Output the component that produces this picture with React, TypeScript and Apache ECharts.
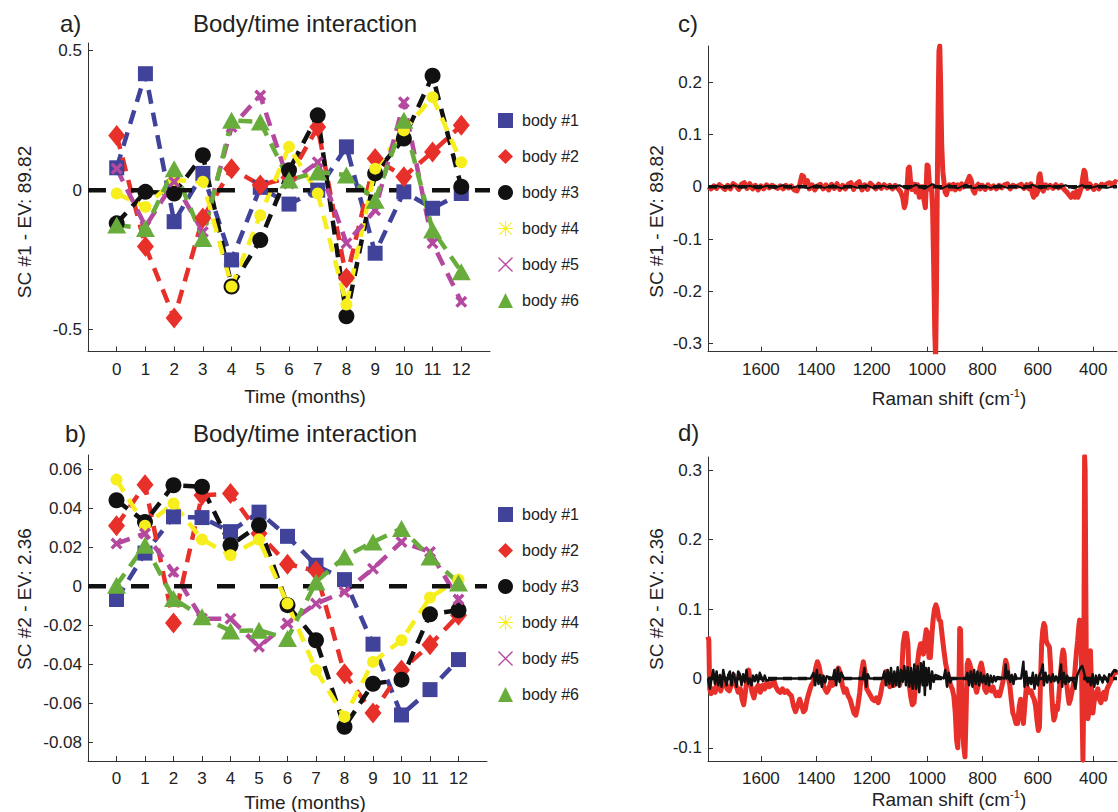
import React, { useEffect, useRef } from "react";
import * as echarts from "echarts";

const FONT = '"Liberation Sans", Arial, Helvetica, sans-serif';

// ---- Panels a & b: body/time interaction ----
const months = [0, 1, 2, 3, 4, 5, 6, 7, 8, 9, 10, 11, 12];
const bodyNames = ["body #1", "body #2", "body #3", "body #4", "body #5", "body #6"];

const aBody1 = [0.08, 0.417, -0.113, 0.06, -0.25, 0.01, -0.05, 0.0, 0.155, -0.226, -0.006, -0.065, -0.012];
const aBody2 = [0.196, -0.202, -0.458, -0.1, 0.077, 0.018, 0.045, 0.226, -0.315, 0.113, 0.048, 0.137, 0.232];
const aBody3 = [-0.119, -0.006, -0.012, 0.125, -0.345, -0.179, 0.071, 0.268, -0.452, 0.06, 0.185, 0.41, 0.012];
const aBody4 = [-0.012, -0.06, 0.036, 0.03, -0.345, -0.09, 0.155, -0.012, -0.41, 0.077, 0.214, 0.333, 0.1];
const aBody5 = [0.077, -0.13, 0.03, -0.15, 0.226, 0.339, 0.024, 0.1, -0.19, -0.072, 0.315, -0.19, -0.4];
const aBody6 = [-0.125, -0.137, 0.077, -0.173, 0.25, 0.244, 0.036, 0.065, 0.054, -0.036, 0.25, -0.143, -0.292];

const bBody1 = [-0.0068, 0.017, 0.0356, 0.0352, 0.028, 0.038, 0.0256, 0.0108, 0.0034, -0.0297, -0.066, -0.053, -0.0376];
const bBody2 = [0.031, 0.052, -0.0188, 0.0467, 0.0475, 0.027, 0.0113, 0.0079, -0.0448, -0.065, -0.043, -0.03, -0.0149];
const bBody3 = [0.0441, 0.033, 0.0518, 0.051, 0.021, 0.0313, -0.0097, -0.0277, -0.0721, -0.05, -0.0479, -0.0144, -0.0123];
const bBody4 = [0.0547, 0.031, 0.0424, 0.024, 0.0159, 0.024, -0.0089, -0.043, -0.067, -0.0388, -0.0277, -0.0058, 0.0034];
const bBody5 = [0.0219, 0.027, 0.0073, -0.0166, -0.0166, -0.031, -0.019, -0.0089, -0.0029, 0.009, 0.0227, 0.0176, -0.0068];
const bBody6 = [0.0005, 0.021, -0.0063, -0.0157, -0.0229, -0.0226, -0.0268, 0.0022, 0.015, 0.0227, 0.0296, 0.015, 0.0017];

const aTicksY = [-0.5, 0, 0.5];
const bTicksY = [-0.08, -0.06, -0.04, -0.02, 0, 0.02, 0.04, 0.06];

// ---- Panels c & d: spectra ----
const ramanTicks = [400, 600, 800, 1000, 1200, 1400, 1600];
const cTicksY = [-0.3, -0.2, -0.1, 0, 0.1, 0.2];
const dTicksY = [-0.1, 0, 0.1, 0.2, 0.3];

const cRed: number[][] = [
  [1790, 0.0], [1780, -0.004], [1770, 0.002], [1760, -0.003], [1750, 0.004], [1740, 0.0], [1730, -0.005],
  [1720, 0.003], [1710, -0.004], [1700, 0.006], [1690, 0.002], [1680, -0.005], [1670, 0.005], [1660, 0.008],
  [1650, -0.003], [1640, 0.006], [1630, -0.004], [1620, 0.003], [1610, -0.006], [1600, 0.002], [1590, -0.004],
  [1580, 0.004], [1570, -0.002], [1560, 0.003], [1550, 0.0], [1540, -0.003], [1530, 0.002], [1520, -0.004],
  [1510, 0.003], [1500, -0.002], [1490, 0.002], [1480, -0.006], [1470, -0.008], [1460, 0.004], [1452, 0.022],
  [1446, 0.02], [1440, 0.006], [1432, 0.012], [1425, -0.004], [1415, 0.004], [1405, -0.006], [1395, 0.002],
  [1385, 0.005], [1375, -0.004], [1365, 0.004], [1355, -0.006], [1345, 0.005], [1335, -0.003], [1325, 0.006],
  [1315, -0.005], [1305, 0.003], [1295, -0.004], [1285, 0.005], [1275, 0.008], [1265, -0.005], [1255, 0.006],
  [1245, 0.01], [1235, -0.006], [1225, 0.004], [1215, -0.005], [1205, 0.007], [1195, 0.002], [1185, -0.004],
  [1175, 0.005], [1165, -0.003], [1155, 0.004], [1145, -0.002], [1135, 0.003], [1125, -0.004], [1115, 0.003],
  [1105, -0.003], [1095, -0.01], [1088, -0.02], [1082, -0.04], [1077, -0.03], [1072, 0.0], [1068, 0.035],
  [1064, 0.038], [1060, 0.015], [1055, -0.005], [1050, 0.0], [1045, 0.005], [1040, -0.01], [1034, 0.004],
  [1028, -0.02], [1022, 0.0], [1016, 0.0], [1011, -0.025], [1006, -0.04], [1003, 0.0], [1000, 0.042],
  [996, 0.04], [992, 0.01], [988, -0.005], [984, 0.0], [980, -0.04], [976, -0.15], [972, -0.28], [969, -0.33],
  [966, -0.2], [963, 0.0], [960, 0.15], [957, 0.26], [954, 0.27], [951, 0.2], [947, 0.08], [943, 0.03],
  [939, 0.01], [935, -0.01], [930, -0.015], [925, -0.005], [920, 0.004], [912, -0.004], [905, 0.005],
  [898, -0.006], [890, 0.004], [882, -0.004], [875, 0.006], [868, 0.0], [860, 0.004], [853, 0.012], [847, 0.02],
  [840, 0.012], [834, -0.006], [828, -0.012], [822, 0.0], [815, 0.005], [808, -0.004], [800, 0.003],
  [790, -0.005], [780, 0.004], [770, -0.003], [760, 0.002], [750, -0.004], [740, 0.003], [730, -0.002],
  [720, 0.004], [710, 0.006], [700, -0.004], [690, 0.003], [680, 0.0], [670, 0.002], [660, 0.005], [650, -0.003],
  [640, 0.004], [632, -0.004], [625, 0.006], [620, -0.012], [615, -0.02], [610, 0.0], [605, -0.015],
  [600, -0.008], [596, 0.02], [592, 0.025], [588, 0.01], [584, -0.005], [580, -0.008], [572, 0.004],
  [564, -0.002], [555, 0.003], [545, -0.003], [535, 0.004], [525, -0.002], [515, 0.003], [505, -0.005],
  [495, -0.01], [488, -0.015], [480, -0.02], [472, -0.012], [466, -0.02], [460, -0.008], [455, -0.02],
  [448, -0.01], [442, 0.0], [437, 0.02], [433, 0.032], [429, 0.028], [425, 0.01], [420, -0.003], [413, 0.006],
  [405, 0.0], [398, -0.005], [390, 0.003], [380, -0.004], [370, 0.005], [360, 0.002], [350, 0.006],
  [340, 0.008], [330, 0.004], [320, 0.01], [314, 0.008],
];

const cBlack: number[][] = [
  [1791, 0], [1760, 0.002], [1730, -0.002], [1700, 0.003], [1670, -0.002], [1640, 0.002], [1610, -0.003],
  [1580, 0.002], [1550, -0.002], [1520, 0.003], [1490, -0.002], [1460, 0.002], [1430, -0.003], [1400, 0.003],
  [1370, -0.002], [1340, 0.003], [1310, -0.003], [1280, 0.002], [1250, -0.002], [1220, 0.003], [1190, -0.003],
  [1160, 0.002], [1130, -0.002], [1100, 0.003], [1070, -0.004], [1040, 0.004], [1010, -0.004], [980, 0.005],
  [950, -0.004], [920, 0.003], [890, -0.003], [860, 0.004], [830, -0.003], [800, 0.002], [770, -0.002],
  [740, 0.003], [710, -0.002], [680, 0.002], [650, -0.003], [620, 0.004], [590, -0.003], [560, 0.002],
  [530, -0.002], [500, 0.003], [470, -0.003], [440, 0.003], [410, -0.002], [380, 0.002], [350, -0.002],
  [314, 0.002],
];

const dRed: number[][] = [
  [1791, 0.06], [1788, 0.055], [1785, -0.015], [1780, -0.022], [1772, -0.015], [1765, -0.02], [1758, -0.005],
  [1752, -0.012], [1745, -0.018], [1738, -0.008], [1730, -0.002], [1722, -0.015], [1714, -0.018],
  [1706, -0.008], [1698, 0.005], [1690, -0.01], [1682, -0.02], [1674, -0.015], [1668, -0.03], [1662, -0.038],
  [1656, -0.02], [1650, 0.0], [1644, 0.012], [1638, -0.005], [1632, -0.02], [1625, -0.028], [1618, -0.015],
  [1610, -0.01], [1602, -0.02], [1594, -0.01], [1586, -0.015], [1578, -0.005], [1570, -0.012], [1562, -0.01],
  [1554, -0.002], [1546, -0.012], [1538, -0.018], [1530, -0.02], [1522, -0.015], [1514, -0.02],
  [1506, -0.018], [1498, -0.022], [1490, -0.025], [1482, -0.04], [1475, -0.048], [1468, -0.04], [1460, -0.03],
  [1452, -0.04], [1446, -0.048], [1440, -0.045], [1433, -0.03], [1426, -0.02], [1418, -0.01], [1410, -0.005],
  [1402, 0.015], [1396, 0.024], [1390, 0.018], [1383, 0.002], [1376, -0.008], [1369, -0.015], [1362, -0.02],
  [1355, -0.015], [1348, -0.005], [1341, -0.01], [1334, 0.0], [1327, 0.01], [1320, 0.015], [1313, 0.008],
  [1306, -0.01], [1299, -0.02], [1292, -0.015], [1285, -0.025], [1278, -0.03], [1271, -0.04], [1264, -0.05],
  [1257, -0.053], [1250, -0.04], [1243, -0.02], [1236, 0.01], [1230, 0.024], [1224, 0.01], [1218, -0.015],
  [1211, -0.02], [1204, -0.025], [1197, -0.03], [1190, -0.032], [1183, -0.028], [1176, -0.035],
  [1169, -0.025], [1162, -0.01], [1155, 0.0], [1148, 0.01], [1141, -0.005], [1134, -0.012], [1127, -0.008],
  [1120, -0.01], [1113, -0.005], [1106, 0.0], [1099, -0.01], [1092, 0.005], [1086, 0.05], [1080, 0.065],
  [1074, 0.065], [1069, 0.05], [1064, -0.01], [1059, -0.026], [1053, -0.038], [1047, -0.035], [1041, -0.01],
  [1035, 0.02], [1029, 0.04], [1023, 0.05], [1018, 0.05], [1013, 0.035], [1008, 0.055], [1003, 0.07],
  [998, 0.065], [993, 0.03], [988, 0.03], [983, 0.06], [978, 0.085], [973, 0.1], [968, 0.106], [963, 0.1],
  [957, 0.085], [951, 0.082], [945, 0.06], [939, 0.04], [933, 0.022], [927, 0.01], [921, 0.0], [915, -0.01],
  [909, -0.015], [903, -0.026], [898, -0.05], [893, -0.09], [889, -0.1], [885, -0.02], [882, 0.072],
  [879, 0.07], [876, 0.0], [872, -0.075], [867, -0.1], [863, -0.113], [859, -0.05], [855, 0.02], [851, 0.026],
  [845, 0.02], [839, 0.01], [833, -0.002], [827, -0.01], [821, -0.02], [815, -0.01], [809, 0.015], [804, 0.022],
  [798, 0.01], [792, -0.015], [786, -0.02], [780, -0.01], [774, -0.015], [768, -0.018], [762, -0.012],
  [756, -0.02], [750, -0.025], [744, -0.02], [738, -0.025], [732, -0.015], [726, -0.005], [720, 0.015],
  [716, 0.026], [711, 0.018], [706, 0.0], [701, -0.01], [696, -0.03], [690, -0.05], [685, -0.055],
  [679, -0.065], [673, -0.065], [667, -0.04], [662, -0.03], [657, -0.05], [652, -0.065], [647, -0.04],
  [641, -0.01], [636, -0.015], [630, -0.02], [624, -0.018], [619, -0.025], [613, -0.03], [608, -0.04],
  [603, -0.06], [598, -0.075], [594, -0.07], [590, 0.0], [586, 0.05], [582, 0.07], [578, 0.079], [574, 0.075],
  [570, 0.055], [566, 0.05], [562, 0.048], [558, 0.045], [554, 0.02], [550, -0.02], [546, -0.045],
  [542, -0.06], [538, -0.055], [533, -0.04], [529, -0.045], [525, -0.03], [521, -0.01], [517, 0.01],
  [513, 0.03], [509, 0.041], [505, 0.035], [500, 0.0], [495, -0.01], [491, -0.025], [487, -0.036],
  [482, -0.03], [477, -0.02], [472, -0.01], [468, 0.0], [464, 0.02], [460, 0.04], [456, 0.055], [452, 0.075],
  [449, 0.084], [446, 0.08], [443, 0.05], [440, -0.05], [437, -0.118], [435, -0.05], [433, 0.1], [431, 0.32],
  [429, 0.3], [427, 0.15], [425, 0.03], [422, -0.03], [419, -0.058], [416, -0.05], [413, 0.0], [410, 0.04],
  [407, 0.0], [404, -0.03], [401, -0.05], [397, -0.035], [393, -0.025], [388, -0.02], [383, -0.015],
  [378, -0.03], [372, -0.035], [367, -0.025], [362, -0.02], [356, -0.03], [350, -0.015], [344, -0.01],
  [338, -0.005], [332, 0.0], [326, 0.008], [320, 0.01], [314, 0.005],
];

const dBlack: number[][] = [
  [1791, 0.0], [1784, -0.015], [1778, 0.0], [1772, 0.012], [1766, -0.008], [1760, 0.01], [1754, -0.01],
  [1748, 0.005], [1742, -0.012], [1736, 0.012], [1730, 0.0], [1724, -0.01], [1718, 0.005], [1712, 0.01],
  [1706, -0.01], [1700, 0.008], [1694, 0.0], [1688, -0.012], [1682, 0.01], [1676, 0.006], [1670, -0.01],
  [1664, 0.006], [1658, -0.005], [1652, 0.012], [1646, -0.008], [1640, 0.0], [1634, -0.01], [1628, 0.004],
  [1622, -0.004], [1616, 0.005], [1610, -0.005], [1604, 0.008], [1598, 0.002], [1592, -0.004], [1586, 0.004],
  [1580, -0.003], [1540, 0.0], [1420, 0.0], [1410, 0.008], [1404, -0.01], [1398, 0.012], [1392, -0.008],
  [1386, 0.005], [1380, -0.012], [1374, 0.004], [1368, -0.006], [1362, 0.003], [1340, 0.0], [1334, 0.012],
  [1328, -0.01], [1322, 0.015], [1316, -0.005], [1310, 0.008], [1300, 0.0], [1232, 0.0], [1226, 0.015],
  [1220, -0.012], [1214, 0.006], [1208, 0.0], [1160, 0.0], [1154, 0.01], [1148, -0.01], [1142, 0.012],
  [1136, -0.008], [1130, 0.015], [1124, -0.012], [1118, 0.01], [1112, -0.01], [1106, 0.016], [1100, -0.012],
  [1094, 0.012], [1088, -0.005], [1082, 0.018], [1076, -0.01], [1070, 0.016], [1064, -0.012], [1058, 0.015],
  [1052, -0.015], [1046, 0.02], [1040, -0.015], [1034, 0.018], [1028, -0.02], [1022, 0.022], [1016, -0.01],
  [1012, 0.024], [1008, -0.024], [1004, 0.015], [1000, -0.01], [994, 0.015], [988, -0.015], [982, 0.01],
  [976, -0.005], [970, 0.005], [940, 0.0], [934, 0.012], [928, -0.012], [922, 0.008], [916, -0.006], [910, 0.0],
  [860, 0.0], [854, 0.008], [848, -0.01], [842, 0.01], [836, -0.012], [830, 0.012], [824, -0.008], [818, 0.01],
  [812, -0.01], [806, 0.008], [800, -0.006], [794, 0.004], [788, -0.008], [782, 0.006], [776, -0.01],
  [770, 0.004], [764, -0.006], [758, 0.003], [752, -0.004], [746, 0.002], [720, 0.0], [716, 0.02], [712, 0.0],
  [706, 0.01], [700, -0.005], [694, 0.005], [688, -0.008], [682, 0.006], [676, 0.0], [660, 0.0], [652, 0.024],
  [648, -0.012], [642, 0.01], [636, -0.01], [630, 0.0], [624, -0.008], [618, 0.008], [612, -0.015],
  [606, 0.005], [600, -0.01], [594, 0.005], [588, 0.01], [582, 0.02], [578, -0.01], [572, 0.008],
  [566, -0.006], [560, 0.004], [552, -0.005], [546, 0.006], [540, -0.004], [534, 0.003], [526, -0.006],
  [520, 0.01], [516, 0.02], [512, -0.012], [506, 0.008], [500, -0.008], [494, 0.004], [488, -0.005],
  [480, 0.0], [470, -0.005], [464, -0.015], [458, 0.004], [452, 0.01], [446, 0.015], [440, 0.018],
  [434, 0.01], [428, 0.0], [420, -0.005], [414, 0.0], [408, -0.01], [402, 0.006], [396, -0.012], [390, 0.004],
  [384, -0.008], [378, 0.005], [372, 0.0], [366, -0.006], [360, 0.004], [354, 0.0], [348, -0.005],
  [342, 0.006], [336, 0.004], [330, 0.008], [324, 0.012], [318, 0.01], [314, 0.012],
];

// ---- styling ----
const COLORS = ["#41439a", "#e8302a", "#111111", "#f7ee1e", "#b5489f", "#68ad3c"];
const ASTERISK =
  "path://M0,9.2L20,9.2L20,10.8L0,10.8Z M9.2,0L10.8,0L10.8,20L9.2,20Z M2.4,1.3L18.7,17.6L17.6,18.7L1.3,2.4Z M17.6,1.3L18.7,2.4L2.4,18.7L1.3,17.6Z";
const CROSS = "path://M1.3,2.4L2.4,1.3L18.7,17.6L17.6,18.7Z M17.6,1.3L18.7,2.4L2.4,18.7L1.3,17.6Z";
const THICK_X = "path://M0,2L2,0L5,3L8,0L10,2L7,5L10,8L8,10L5,7L2,10L0,8L3,5Z";
const SYMBOLS: any[] = ["rect", "diamond", "circle", "circle", THICK_X, "triangle"];
const SIZES: any[] = [15, [17, 21], 16, 12, 12, [19, 17]];
const LEGEND_ICONS = ["rect", "diamond", "circle", ASTERISK, CROSS, "triangle"];

const AXIS_COLOR = "#333";
const TEXT_COLOR = "#222";

function xAxisTime(gridIndex: number) {
  return {
    gridIndex,
    type: "value",
    min: -1,
    max: 13,
    axisLine: { onZero: false, lineStyle: { color: AXIS_COLOR, width: 1 } },
    axisTick: { inside: true, length: 5, customValues: months, lineStyle: { color: AXIS_COLOR } },
    axisLabel: {
      customValues: months,
      fontSize: 17,
      color: TEXT_COLOR,
      fontFamily: FONT,
      margin: 9,
      formatter: (v: number) => String(v),
    },
    splitLine: { show: false },
  };
}

function xAxisRaman(gridIndex: number) {
  return {
    gridIndex,
    type: "value",
    inverse: true,
    min: 314,
    max: 1791,
    axisLine: { onZero: false, lineStyle: { color: AXIS_COLOR, width: 1 } },
    axisTick: { inside: true, length: 5, customValues: ramanTicks, lineStyle: { color: AXIS_COLOR } },
    axisLabel: {
      customValues: ramanTicks,
      fontSize: 17,
      color: TEXT_COLOR,
      fontFamily: FONT,
      margin: 9,
      formatter: (v: number) => String(v),
    },
    splitLine: { show: false },
  };
}

function yAxisVal(gridIndex: number, min: number, max: number, ticks: number[]) {
  return {
    gridIndex,
    type: "value",
    min,
    max,
    axisLine: { show: true, onZero: false, lineStyle: { color: AXIS_COLOR, width: 1 } },
    axisTick: { show: true, inside: true, length: 5, customValues: ticks, lineStyle: { color: AXIS_COLOR } },
    axisLabel: {
      customValues: ticks,
      fontSize: 17,
      color: TEXT_COLOR,
      fontFamily: FONT,
      margin: 6,
      formatter: (v: number) => String(v),
    },
    splitLine: { show: false },
  };
}

function bodySeries(axisIndex: number, sets: number[][]) {
  return sets.map((vals, k) => ({
    name: bodyNames[k],
    type: "line",
    xAxisIndex: axisIndex,
    yAxisIndex: axisIndex,
    data: months.map((m, i) => [m, vals[i]]),
    symbol: SYMBOLS[k],
    symbolSize: SIZES[k],
    showSymbol: true,
    itemStyle: { color: COLORS[k], borderWidth: 0 },
    lineStyle: { color: COLORS[k], width: 4.5, type: [14, 9] },
    silent: true,
  }));
}

function zeroLine(axisIndex: number, x0: number, x1: number, width: number, dash: number[]) {
  return {
    name: "zero" + axisIndex,
    type: "line",
    xAxisIndex: axisIndex,
    yAxisIndex: axisIndex,
    data: [
      [x0, 0],
      [x1, 0],
    ],
    symbol: "none",
    z: 3,
    lineStyle: { color: "#111", width, type: dash },
    silent: true,
  };
}

function spectrum(name: string, axisIndex: number, data: number[][], color: string, width: number) {
  return {
    name,
    type: "line",
    xAxisIndex: axisIndex,
    yAxisIndex: axisIndex,
    data,
    symbol: "none",
    lineStyle: { color, width, join: "round" },
    silent: true,
  };
}

function txt(text: string, x: number, y: number, size: number, align: string, rotate = 0) {
  return {
    type: "text",
    x,
    y,
    rotation: rotate,
    silent: true,
    style: {
      text,
      fontSize: size,
      fontFamily: FONT,
      fill: TEXT_COLOR,
      align,
      verticalAlign: "middle",
    },
  };
}

function ramanLabel(y: number) {
  return {
    type: "text",
    x: 949,
    y,
    silent: true,
    style: {
      text: "{a|Raman shift (cm}{s|-1}{a|)}",
      align: "center",
      verticalAlign: "middle",
      fill: TEXT_COLOR,
      fontFamily: FONT,
      rich: {
        a: { fontSize: 19, fontFamily: FONT, fill: TEXT_COLOR, color: TEXT_COLOR, lineHeight: 22 },
        s: { fontSize: 11, fontFamily: FONT, fill: TEXT_COLOR, color: TEXT_COLOR, lineHeight: 12, verticalAlign: "top" },
      },
    },
  };
}

function legendFor(top: number) {
  return {
    data: bodyNames.map((n, k) => ({ name: n, icon: LEGEND_ICONS[k], itemStyle: { borderWidth: 0 } })),
    orient: "vertical",
    left: 498,
    top,
    padding: 0,
    itemWidth: 15,
    itemHeight: 15,
    itemGap: 20,
    selectedMode: false,
    textStyle: { fontSize: 16, color: TEXT_COLOR, fontFamily: FONT, lineHeight: 15, padding: [0, 0, 0, 4] },
  };
}

export default function App() {
  const ref = useRef<HTMLDivElement>(null);

  useEffect(() => {
    if (!ref.current) return;
    const chart = echarts.init(ref.current, null, { renderer: "svg" });
    const option: any = {
      animation: false,
      backgroundColor: "#ffffff",
      grid: [
        { left: 88, top: 43, width: 402, height: 308.5 },
        { left: 88, top: 455, width: 399, height: 306 },
        { left: 708, top: 46, width: 409, height: 305.7 },
        { left: 708, top: 457, width: 409, height: 304 },
      ],
      xAxis: [xAxisTime(0), xAxisTime(1), xAxisRaman(2), xAxisRaman(3)],
      yAxis: [
        yAxisVal(0, -0.578, 0.527, aTicksY),
        yAxisVal(1, -0.0896, 0.0673, bTicksY),
        yAxisVal(2, -0.316, 0.27, cTicksY),
        yAxisVal(3, -0.119, 0.319, dTicksY),
      ],
      legend: [legendFor(112.5), legendFor(506.5)],
      series: [
        ...bodySeries(0, [aBody1, aBody2, aBody3, aBody4, aBody5, aBody6]),
        zeroLine(0, -1, 13, 4.5, [18, 25]),
        ...bodySeries(1, [bBody1, bBody2, bBody3, bBody4, bBody5, bBody6]),
        zeroLine(1, -1, 13, 4.5, [18, 25]),
        spectrum("cRed", 2, cRed, "#e8302a", 5),
        spectrum("cBlack", 2, cBlack, "#111", 2),
        zeroLine(2, 1791, 314, 3.5, [9, 6]),
        spectrum("dRed", 3, dRed, "#e8302a", 5),
        spectrum("dBlack", 3, dBlack, "#111", 2.5),
        zeroLine(3, 1791, 314, 3.5, [9, 6]),
      ],
      graphic: [
        txt("a)", 60, 23.5, 24, "left"),
        txt("Body/time interaction", 305, 23.5, 24, "center"),
        txt("b)", 65, 433.5, 24, "left"),
        txt("Body/time interaction", 305, 433.5, 24, "center"),
        txt("c)", 678, 23.5, 24, "left"),
        txt("d)", 678, 432.5, 24, "left"),
        txt("Time (months)", 305, 396, 19, "center"),
        txt("Time (months)", 305, 802, 19, "center"),
        txt("SC #1 - EV: 89.82", 24, 222, 19, "center", Math.PI / 2),
        txt("SC #2 - EV: 2.36", 24, 599, 19, "center", Math.PI / 2),
        txt("SC #1 - EV: 89.82", 656.5, 221.5, 19, "center", Math.PI / 2),
        txt("SC #2 - EV: 2.36", 656, 599, 19, "center", Math.PI / 2),
        ramanLabel(398.5),
        ramanLabel(799.5),
      ],
    };
    chart.setOption(option);
    return () => chart.dispose();
  }, []);

  return (
    <div
      ref={ref}
      style={{ position: "fixed", left: 0, top: 0, width: 1118, height: 812, background: "#fff" }}
    />
  );
}
